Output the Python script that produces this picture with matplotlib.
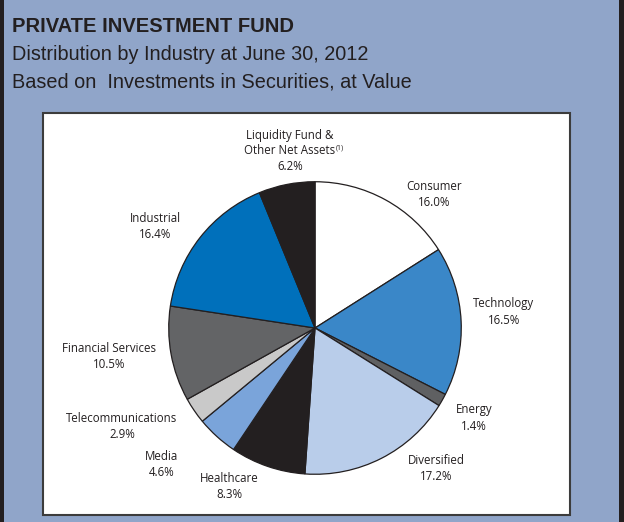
import matplotlib
matplotlib.use("Agg")
import matplotlib.pyplot as plt
from matplotlib.patches import Rectangle
from matplotlib import font_manager

categories = ["Consumer", "Technology", "Energy", "Diversified", "Healthcare",
              "Media", "Telecommunications", "Financial Services", "Industrial",
              "Liquidity Fund &\nOther Net Assets"]
values = [16.0, 16.5, 1.4, 17.2, 8.3, 4.6, 2.9, 10.5, 16.4, 6.2]
colors = ["#ffffff", "#3a87c8", "#5f6062", "#b9cdea", "#231f20",
          "#7aa4da", "#c9c9c9", "#636466", "#0070bb", "#231f20"]
# label centre positions in pixels (x, y of first line)
label_pos = [(434, 187), (504, 304), (474, 410), (436, 460), (229, 479),
             (162, 457), (122, 418), (109, 349), (155, 219), (290, 135)]

W, H = 624, 522
fig = plt.figure(figsize=(W / 100, H / 100), dpi=100)
fig.patch.set_facecolor("#90a5c9")

def fx(x):
    return x / W

def fy(y):
    return 1 - y / H

names = {f.name for f in font_manager.fontManager.ttflist}
narrow = "Liberation Sans Narrow" in names
tfont = "Liberation Sans Narrow" if narrow else "Liberation Sans"
tsize = 17 if narrow else 14.5
ssize = 17 if narrow else 14.3

# side borders
fig.add_artist(Rectangle((0, 0), fx(4), 1, transform=fig.transFigure,
                         facecolor="#231f20", edgecolor="none", zorder=-2))
fig.add_artist(Rectangle((fx(619), 0), fx(6), 1, transform=fig.transFigure,
                         facecolor="#231f20", edgecolor="none", zorder=-2))
# white box
fig.add_artist(Rectangle((fx(43), fy(515)), fx(570 - 43), (515 - 113) / H,
                         transform=fig.transFigure, facecolor="white",
                         edgecolor="#3c3c3c", linewidth=1.5, zorder=-1))

fig.text(fx(12), fy(32), "PRIVATE INVESTMENT FUND", fontsize=tsize,
         fontweight="bold", family=tfont, color="#231f20", va="baseline")
fig.text(fx(12), fy(60), "Distribution by Industry at June 30, 2012",
         fontsize=ssize, family=tfont, color="#231f20", va="baseline")
fig.text(fx(12), fy(88), "Based on  Investments in Securities, at Value",
         fontsize=ssize, family=tfont, color="#231f20", va="baseline")

cx, cy, r = 315, 328, 147
ax = fig.add_axes([fx(cx - r), fy(cy + r), 2 * r / W, 2 * r / H])
ax.set_zorder(5)
ax.patch.set_visible(False)
ax.pie(values, colors=colors, startangle=90, counterclock=False,
       wedgeprops=dict(edgecolor="#231f20", linewidth=0.9))
ax.set_xlim(-1.005, 1.005)
ax.set_ylim(-1.005, 1.005)
ax.set_aspect("equal")
ax.axis("off")

lfont = "Open Sans"
for cat, val, (x, y) in zip(categories, values, label_pos):
    lines = cat.split("\n")
    yy = y
    for ln in lines:
        fig.text(fx(x), fy(yy), ln, fontsize=8.3, family=lfont,
                 color="#231f20", ha="center", va="center")
        yy += 16
    fig.text(fx(x), fy(yy), f"{val:.1f}%", fontsize=8.3, family=lfont,
             color="#231f20", ha="center", va="center")

# footnote marker
fig.text(fx(336), fy(148), "(1)", fontsize=5, family=lfont,
         color="#231f20", ha="left", va="center")

fig.savefig("out.png", dpi=100, facecolor=fig.get_facecolor())
